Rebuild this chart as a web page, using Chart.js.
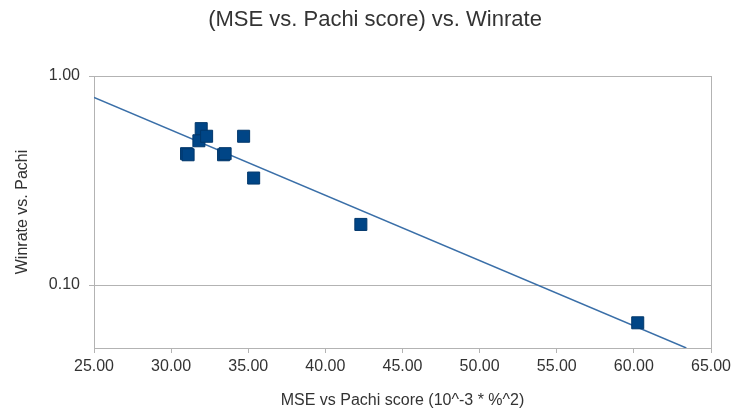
<!DOCTYPE html>
<html>
<head>
<meta charset="utf-8">
<script src="https://cdn.jsdelivr.net/npm/chart.js@4.4.1/dist/chart.umd.min.js"></script>
<style>
  html, body { margin: 0; padding: 0; background: #fff; }
  #wrap { width: 733px; height: 413px; }
</style>
</head>
<body>
<div id="wrap"><canvas id="chart" width="733" height="413"></canvas></div>
<script>
// MSE vs Pachi score (10^-3 * %^2) and winrate vs Pachi
const mseValues = [31.0, 31.1, 31.8, 31.95, 32.3, 33.4, 33.5, 34.7, 35.35, 42.3, 60.25];
const winrates = [0.425, 0.42, 0.49, 0.56, 0.515, 0.42, 0.425, 0.515, 0.325, 0.195, 0.066];

// exponential trend line endpoints
const trendX = [25.0, 63.4];
const trendY = [0.79, 0.05];

const yTicks = [0.1, 1.0];

const points = mseValues.map((x, i) => ({ x: x, y: winrates[i] }));
const trend = trendX.map((x, i) => ({ x: x, y: trendY[i] }));

const frame = {
    id: 'frame',
    afterLayout(chart) {
        // title sits a bit right of the canvas centre in the original
        if (chart.titleBlock) {
            chart.titleBlock.left = 17;
            chart.titleBlock.right = 733;
        }
    },
    afterDraw(chart) {
        const { ctx, chartArea } = chart;
        ctx.save();
        ctx.strokeStyle = '#b3b3b3';
        ctx.lineWidth = 1;
        ctx.beginPath();
        ctx.moveTo(Math.round(chartArea.right) + 0.5, chartArea.top);
        ctx.lineTo(Math.round(chartArea.right) + 0.5, chartArea.bottom);
        ctx.stroke();
        ctx.restore();
    }
};

const font = 'Liberation Sans';

new Chart(document.getElementById('chart'), {
    type: 'scatter',
    data: {
        datasets: [{
            label: 'Winrate',
            data: points,
            pointStyle: 'rect',
            pointRadius: 8.5,
            pointHoverRadius: 8.5,
            backgroundColor: '#004586',
            borderColor: '#00376b',
            borderWidth: 1,
            order: 0
        }, {
            label: 'Trend',
            data: trend,
            showLine: true,
            pointRadius: 0,
            borderColor: '#3a6fa8',
            borderWidth: 1.5,
            order: 1
        }]
    },
    plugins: [frame],
    options: {
        responsive: false,
        animation: false,
        layout: { padding: { left: 0, right: 22, top: 0, bottom: 0 } },
        plugins: {
            legend: { display: false },
            tooltip: { enabled: false },
            title: {
                display: true,
                text: '(MSE vs. Pachi score) vs. Winrate',
                color: '#333',
                font: { family: font, size: 22, weight: 'normal' },
                padding: { top: 7, bottom: 42.6 }
            }
        },
        scales: {
            x: {
                type: 'linear',
                min: 25,
                max: 65,
                afterFit: s => { s.height = 65; s.paddingRight = 0; s.paddingLeft = 0; },
                ticks: {
                    stepSize: 5,
                    color: '#333',
                    padding: 4,
                    font: { family: font, size: 16 },
                    callback: v => v.toFixed(2)
                },
                grid: { drawOnChartArea: false, drawTicks: true, tickLength: 5, color: '#b3b3b3' },
                border: { color: '#b3b3b3' },
                title: {
                    display: true,
                    text: 'MSE vs Pachi score (10^-3 * %^2)',
                    color: '#333',
                    font: { family: font, size: 16 },
                    padding: { top: 4, bottom: 3 }
                }
            },
            y: {
                type: 'logarithmic',
                min: 0.05,
                max: 1.0,
                afterFit: s => { s.width = 94; },
                afterBuildTicks: s => { s.ticks = yTicks.map(v => ({ value: v, major: true })); },
                ticks: {
                    color: '#333',
                    padding: 9,
                    font: { family: font, size: 16 },
                    callback: v => Number(v).toFixed(2)
                },
                grid: { drawTicks: true, tickLength: 5, color: '#b3b3b3' },
                border: { color: '#b3b3b3' },
                title: {
                    display: true,
                    text: 'Winrate vs. Pachi',
                    color: '#333',
                    font: { family: font, size: 16 },
                    padding: { top: 13, bottom: 4 }
                }
            }
        }
    }
});
</script>
</body>
</html>
